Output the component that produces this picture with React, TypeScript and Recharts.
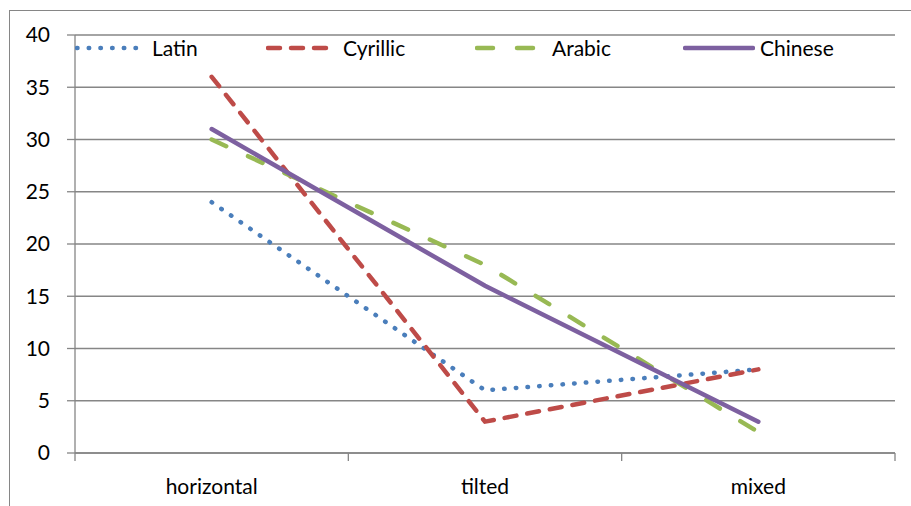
import { LineChart, Line, XAxis, YAxis, CartesianGrid } from 'recharts';

const categories = ['horizontal', 'tilted', 'mixed'];
const latin = [24, 6, 8];
const cyrillic = [36, 3, 8];
const arabic = [30, 18, 2];
const chinese = [31, 16, 3];
const yTicks = [0, 5, 10, 15, 20, 25, 30, 35, 40];

const data = categories.map((name, i) => ({
  name,
  Latin: latin[i],
  Cyrillic: cyrillic[i],
  Arabic: arabic[i],
  Chinese: chinese[i],
}));

const FONT = 'Lato, "Open Sans", sans-serif';
const GRID = '#868686';

const CHART_W = 911;
const CHART_H = 506;
const MARGIN = { top: 35, right: 16, left: 15, bottom: 13 };
const Y_AXIS_W = 60;
// width of one category band on the x axis
const BAND = (CHART_W - MARGIN.left - MARGIN.right - Y_AXIS_W) / categories.length;

interface SeriesStyle {
  key: string;
  color: string;
  width: number;
  dash?: string;
  legendLeft: number;
}

const series: SeriesStyle[] = [
  { key: 'Latin', color: '#4a7ebb', width: 4.5, dash: '0.5 11.2', legendLeft: 75 },
  { key: 'Cyrillic', color: '#be4b48', width: 4.5, dash: '12 11', legendLeft: 266 },
  { key: 'Arabic', color: '#98b954', width: 4.5, dash: '16 24', legendLeft: 475 },
  { key: 'Chinese', color: '#7d60a0', width: 4.5, legendLeft: 683 },
];

// category label with tick marks on the band edges, Excel style
const CategoryTick = (props: any) => {
  const { x, y, payload, index } = props;
  const left = x - BAND / 2;
  const right = x + BAND / 2;
  const top = y - 26;
  return (
    <g>
      <line x1={left} y1={top} x2={left} y2={top + 8} stroke={GRID} strokeWidth={1.3} />
      {index === categories.length - 1 && (
        <line x1={right} y1={top} x2={right} y2={top + 8} stroke={GRID} strokeWidth={1.3} />
      )}
      <text x={x} y={y} dy="0.71em" textAnchor="middle" fontFamily={FONT} fontSize={21} fill="#000">
        {payload.value}
      </text>
    </g>
  );
};

// legend sits inside the plot, overlapping the top gridline area
const ScriptLegend = () => (
  <div style={{ position: 'absolute', left: 0, top: 35, height: 26, width: CHART_W }}>
    {series.map((s) => (
      <div
        key={s.key}
        style={{
          position: 'absolute',
          left: s.legendLeft,
          top: 0,
          height: 26,
          display: 'flex',
          alignItems: 'center',
        }}
      >
        <svg width={72} height={10} style={{ display: 'block' }}>
          <line
            x1={2}
            y1={5}
            x2={70}
            y2={5}
            stroke={s.color}
            strokeWidth={s.width}
            strokeDasharray={s.dash}
            strokeLinecap="round"
          />
        </svg>
        <span style={{ marginLeft: 5, fontFamily: FONT, fontSize: 21, color: '#000', lineHeight: '26px' }}>
          {s.key}
        </span>
      </div>
    ))}
  </div>
);

export default function App() {
  return (
    <div
      style={{
        position: 'fixed',
        left: 0,
        top: 0,
        width: CHART_W,
        height: CHART_H,
        overflow: 'hidden',
        background: '#fff',
      }}
    >
      <div
        style={{
          position: 'absolute',
          left: 9,
          top: 10,
          width: 1200,
          height: 800,
          border: `1px solid ${GRID}`,
        }}
      />
      <div style={{ position: 'absolute', left: 0, top: 0 }}>
        <LineChart width={CHART_W} height={CHART_H} data={data} margin={MARGIN}>
          <CartesianGrid horizontal vertical={false} stroke={GRID} strokeWidth={1.3} />
          <XAxis
            dataKey="name"
            padding={{ left: BAND / 2, right: BAND / 2 }}
            axisLine={{ stroke: GRID, strokeWidth: 1.3 }}
            tickLine={false}
            tickSize={0}
            tickMargin={26}
            height={40}
            interval={0}
            tick={<CategoryTick />}
          />
          <YAxis
            domain={[0, 40]}
            ticks={yTicks}
            interval={0}
            width={Y_AXIS_W}
            axisLine={{ stroke: GRID, strokeWidth: 1.3 }}
            tickLine={{ stroke: GRID, strokeWidth: 1.3 }}
            tickSize={8}
            tickMargin={17}
            tick={{ fontFamily: FONT, fontSize: 21, fill: '#000' }}
          />
          {series.map((s) => (
            <Line
              key={s.key}
              type="linear"
              dataKey={s.key}
              stroke={s.color}
              strokeWidth={s.width}
              strokeDasharray={s.dash}
              strokeLinecap="round"
              dot={false}
              activeDot={false}
              isAnimationActive={false}
            />
          ))}
        </LineChart>
      </div>
      <ScriptLegend />
    </div>
  );
}
